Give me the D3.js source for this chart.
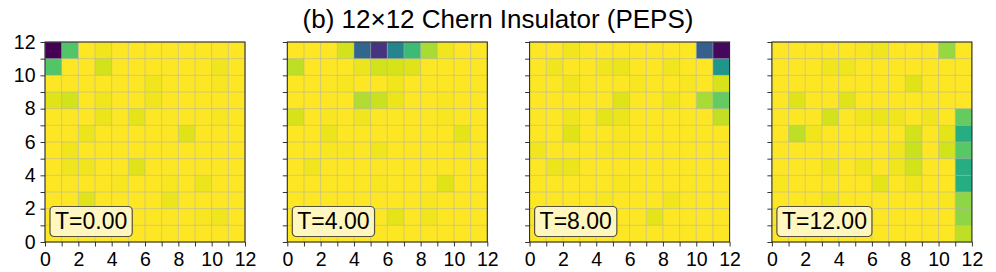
<!DOCTYPE html>
<html>
<head>
<meta charset="utf-8">
<script src="https://cdn.jsdelivr.net/npm/d3@7"></script>
<style>
  body { margin: 0; background: #fff; }
  svg { display: block; font-family: "Liberation Sans", Arial, sans-serif; }
  .axis text { font-size: 19.5px; fill: #000; }
  .axis line, .axis path { stroke: #000; stroke-width: 0.8; }
</style>
</head>
<body>
<div id="chart"></div>
<script>
// rows listed from top (y = 11) to bottom (y = 0), columns x = 0..11
const gridT0 = [
    [0.00, 0.73, 1, 0.98, 1, 1, 1, 1, 1, 1, 1, 1],
    [0.73, 1, 1, 0.93, 1, 1, 1, 1, 1, 1, 0.98, 1],
    [1, 1, 1, 1, 1, 1, 0.98, 1, 1, 1, 0.99, 1],
    [0.95, 0.93, 1, 0.98, 1, 1, 0.98, 1, 1, 1, 1, 1],
    [1, 1, 1, 0.97, 1, 0.96, 1, 1, 1, 1, 0.99, 1],
    [1, 1, 0.97, 1, 1, 1, 1, 1, 0.95, 1, 1, 1],
    [1, 0.98, 1, 1, 1, 1, 1, 1, 1, 1, 1, 1],
    [1, 0.98, 0.98, 1, 1, 0.95, 1, 1, 1, 1, 1, 1],
    [1, 1, 1, 1, 0.99, 1, 1, 0.99, 1, 0.97, 1, 1],
    [1, 1, 0.95, 1, 1, 1, 1, 0.97, 1, 1, 1, 1],
    [1, 1, 1, 1, 1, 1, 1, 1, 1, 0.99, 0.98, 1],
    [1, 1, 1, 1, 1, 1, 1, 1, 1, 1, 1, 1]
];
const gridT4 = [
    [1, 1, 1, 0.93, 0.33, 0.15, 0.45, 0.68, 0.87, 0.98, 1, 1],
    [0.9, 1, 1, 1, 0.97, 0.93, 0.94, 0.95, 1, 1, 1, 1],
    [1, 1, 1, 0.99, 1, 1, 0.98, 1, 1, 1, 1, 1],
    [1, 1, 1, 1, 0.88, 0.92, 0.97, 1, 1, 0.99, 1, 1],
    [0.94, 1, 0.99, 1, 0.98, 1, 1, 1, 1, 0.99, 1, 1],
    [1, 1, 0.97, 1, 1, 1, 1, 1, 1, 1, 0.96, 1],
    [1, 1, 0.99, 0.99, 1, 0.98, 1, 1, 1, 1, 0.99, 1],
    [1, 0.98, 1, 1, 1, 1, 1, 1, 1, 1, 1, 1],
    [1, 1, 1, 1, 1, 0.99, 1, 1, 1, 0.95, 1, 1],
    [1, 1, 1, 1, 1, 1, 1, 1, 0.99, 1, 1, 1],
    [1, 1, 1, 1, 1, 1, 0.96, 1, 0.98, 1, 1, 1],
    [1, 1, 1, 1, 1, 1, 1, 1, 1, 1, 1, 1]
];
const gridT8 = [
    [1, 1, 0.98, 1, 1, 1, 1, 1, 1, 1, 0.30, 0.02],
    [1, 0.98, 1, 1, 0.98, 0.97, 1, 1, 0.98, 1, 1, 0.52],
    [1, 1, 0.98, 1, 1, 1, 0.99, 1, 1, 0.99, 1, 0.94],
    [1, 1, 1, 1, 1, 0.95, 1, 1, 0.98, 1, 0.87, 0.76],
    [1, 1, 0.98, 1, 0.96, 0.97, 1, 1, 1, 1, 1, 0.91],
    [1, 1, 0.95, 1, 1, 0.99, 1, 1, 1, 1, 1, 1],
    [0.98, 1, 1, 1, 0.99, 0.99, 1, 1, 1, 1, 1, 1],
    [1, 0.97, 0.97, 1, 1, 1, 1, 1, 1, 1, 1, 1],
    [1, 1, 1, 1, 1, 0.99, 1, 1, 1, 1, 1, 1],
    [1, 1, 1, 1, 0.99, 1, 1, 1, 0.98, 1, 1, 1],
    [1, 1, 1, 1, 1, 1, 1, 0.96, 1, 1, 1, 1],
    [1, 1, 1, 1, 1, 1, 1, 1, 1, 1, 1, 1]
];
const gridT12 = [
    [1, 1, 1, 1, 1, 0.99, 0.98, 1, 1, 1, 0.84, 1],
    [1, 1, 1, 0.98, 0.98, 1, 1, 1, 1, 1, 1, 1],
    [1, 1, 1, 1, 1, 1, 1, 1, 0.95, 1, 1, 1],
    [1, 0.95, 1, 1, 0.95, 1, 1, 1, 1, 1, 1, 1],
    [1, 1, 1, 0.93, 1, 0.98, 0.97, 0.98, 1, 0.98, 1, 0.76],
    [1, 0.90, 0.98, 1, 1, 1, 1, 1, 0.93, 1, 0.96, 0.62],
    [1, 1, 1, 1, 1, 1, 1, 0.98, 0.92, 1, 0.93, 0.74],
    [1, 1, 1, 0.98, 1, 0.98, 1, 0.98, 0.93, 1, 1, 0.62],
    [0.99, 1, 1, 1, 1, 1, 0.96, 1, 0.98, 1, 1, 0.62],
    [1, 1, 1, 0.98, 1, 1, 1, 1, 1, 1, 0.99, 0.83],
    [1, 1, 1, 1, 1, 1, 1, 1, 1, 1, 1, 0.83],
    [1, 1, 1, 1, 1, 1, 1, 1, 1, 1, 1, 0.90]
];
const panelGrids = [gridT0, gridT4, gridT8, gridT12];
const panelLabels = ["T=0.00", "T=4.00", "T=8.00", "T=12.00"];
const axisTicks = d3.range(0, 13);
const titleText = "(b) 12\u00d712 Chern Insulator (PEPS)";

const W = 996, H = 272;
const size = 200, panelTop = 42, left0 = 45, step = 242.3;

const svg = d3.select("#chart").append("svg")
    .attr("width", W)
    .attr("height", H);

svg.append("text")
    .attr("x", 498)
    .attr("y", 28)
    .attr("text-anchor", "middle")
    .style("font-size", "26px")
    .text(titleText);

const color = d3.scaleSequential(d3.interpolateViridis).domain([0, 1]);

const x = d3.scaleLinear().domain([0, 12]).range([0, size]);
const y = d3.scaleLinear().domain([0, 12]).range([size, 0]);

const buildPanel = (grid, label, i) => {
    let g = svg.append("g")
        .attr("transform", `translate(${left0 + i * step},${panelTop})`);

    let cells = [];
    grid.forEach((row, r) => {
        row.forEach((v, c) => {
            cells.push({col: c, row: 11 - r, value: v});
        });
    });

    g.selectAll("rect.cell")
        .data(cells)
        .enter()
        .append("rect")
        .attr("class", "cell")
        .attr("x", d => x(d.col))
        .attr("y", d => y(d.row + 1))
        .attr("width", x(1) - x(0) + 0.3)
        .attr("height", y(0) - y(1) + 0.3)
        .attr("fill", d => color(d.value));

    // grid lines
    g.selectAll("line.gx")
        .data(axisTicks)
        .enter()
        .append("line")
        .attr("x1", d => x(d)).attr("x2", d => x(d))
        .attr("y1", 0).attr("y2", size)
        .attr("stroke", "#b0b0b0")
        .attr("stroke-opacity", 0.7)
        .attr("stroke-width", 0.8);
    g.selectAll("line.gy")
        .data(axisTicks)
        .enter()
        .append("line")
        .attr("y1", d => y(d)).attr("y2", d => y(d))
        .attr("x1", 0).attr("x2", size)
        .attr("stroke", "#b0b0b0")
        .attr("stroke-opacity", 0.7)
        .attr("stroke-width", 0.8);

    let xAxis = d3.axisBottom(x)
        .tickValues(axisTicks)
        .tickFormat(d => d % 2 ? "" : d)
        .tickSize(4.5)
        .tickPadding(5)
        .tickSizeOuter(0);
    g.append("g")
        .attr("class", "axis")
        .attr("transform", `translate(0,${size})`)
        .call(xAxis)
        .selectAll("text")
        .attr("dy", "0.72em");

    let yAxis = d3.axisLeft(y)
        .tickValues(axisTicks)
        .tickFormat(d => (i === 0 && d % 2 === 0) ? d : "")
        .tickSize(4.5)
        .tickPadding(5)
        .tickSizeOuter(0);
    g.append("g")
        .attr("class", "axis")
        .call(yAxis);

    g.selectAll(".axis .domain").remove();

    g.append("rect")
        .attr("width", size)
        .attr("height", size)
        .attr("fill", "none")
        .attr("stroke", "#222")
        .attr("stroke-width", 1);

    // label box
    let lab = g.append("g");
    let txt = lab.append("text")
        .attr("x", 10)
        .attr("y", 186.5)
        .style("font-size", "23px")
        .text(label);
    let tw = txt.node().getComputedTextLength();
    lab.insert("rect", "text")
        .attr("x", 5)
        .attr("y", 164.5)
        .attr("width", tw + 10)
        .attr("height", 30)
        .attr("rx", 4)
        .attr("fill", "#fff8cf")
        .attr("fill-opacity", 0.9)
        .attr("stroke", "#55503a")
        .attr("stroke-width", 1.2);
};

panelGrids.forEach((grid, i) => buildPanel(grid, panelLabels[i], i));
</script>
</body>
</html>
